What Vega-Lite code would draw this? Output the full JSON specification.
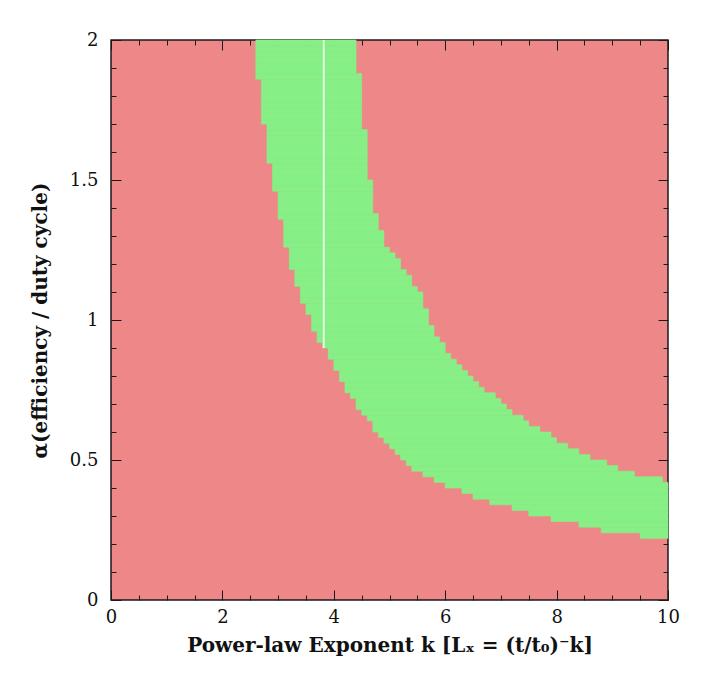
{
  "$schema": "https://vega.github.io/schema/vega-lite/v6.json",
  "width": 557,
  "height": 560,
  "autosize": {"type": "none"},
  "padding": {"left": 111, "top": 40, "right": 43, "bottom": 96},
  "background": "white",
  "config": {
    "view": {"stroke": "#1a1a1a", "strokeWidth": 1.5, "fill": "#ee8787"},
    "axis": {"grid": false, "domain": false, "tickColor": "#1a1a1a", "tickWidth": 1, "labelColor": "#111", "titleColor": "#111", "labelFont": "DejaVu Serif", "titleFont": "DejaVu Serif"}
  },
  "datasets": {
    "band": [
      {"a_lo": 0.22, "a_hi": 0.24, "k_lo": 9.5, "k_hi": 10},
      {"a_lo": 0.24, "a_hi": 0.26, "k_lo": 8.8, "k_hi": 10},
      {"a_lo": 0.26, "a_hi": 0.28, "k_lo": 8.4, "k_hi": 10},
      {"a_lo": 0.28, "a_hi": 0.30, "k_lo": 7.9, "k_hi": 10},
      {"a_lo": 0.30, "a_hi": 0.32, "k_lo": 7.5, "k_hi": 10},
      {"a_lo": 0.32, "a_hi": 0.34, "k_lo": 7.2, "k_hi": 10},
      {"a_lo": 0.34, "a_hi": 0.36, "k_lo": 6.8, "k_hi": 10},
      {"a_lo": 0.36, "a_hi": 0.38, "k_lo": 6.5, "k_hi": 10},
      {"a_lo": 0.38, "a_hi": 0.40, "k_lo": 6.3, "k_hi": 10},
      {"a_lo": 0.40, "a_hi": 0.42, "k_lo": 6.0, "k_hi": 10},
      {"a_lo": 0.42, "a_hi": 0.44, "k_lo": 5.8, "k_hi": 9.9},
      {"a_lo": 0.44, "a_hi": 0.46, "k_lo": 5.6, "k_hi": 9.4},
      {"a_lo": 0.46, "a_hi": 0.48, "k_lo": 5.4, "k_hi": 9.1},
      {"a_lo": 0.48, "a_hi": 0.50, "k_lo": 5.3, "k_hi": 8.9},
      {"a_lo": 0.50, "a_hi": 0.52, "k_lo": 5.2, "k_hi": 8.6},
      {"a_lo": 0.52, "a_hi": 0.54, "k_lo": 5.1, "k_hi": 8.4},
      {"a_lo": 0.54, "a_hi": 0.56, "k_lo": 5.0, "k_hi": 8.2},
      {"a_lo": 0.56, "a_hi": 0.58, "k_lo": 4.9, "k_hi": 8.0},
      {"a_lo": 0.58, "a_hi": 0.60, "k_lo": 4.8, "k_hi": 7.9},
      {"a_lo": 0.60, "a_hi": 0.62, "k_lo": 4.7, "k_hi": 7.7},
      {"a_lo": 0.62, "a_hi": 0.64, "k_lo": 4.7, "k_hi": 7.5},
      {"a_lo": 0.64, "a_hi": 0.66, "k_lo": 4.6, "k_hi": 7.4},
      {"a_lo": 0.66, "a_hi": 0.68, "k_lo": 4.5, "k_hi": 7.2},
      {"a_lo": 0.68, "a_hi": 0.70, "k_lo": 4.4, "k_hi": 7.1},
      {"a_lo": 0.70, "a_hi": 0.72, "k_lo": 4.4, "k_hi": 7.0},
      {"a_lo": 0.72, "a_hi": 0.74, "k_lo": 4.3, "k_hi": 6.9},
      {"a_lo": 0.74, "a_hi": 0.76, "k_lo": 4.2, "k_hi": 6.7},
      {"a_lo": 0.76, "a_hi": 0.78, "k_lo": 4.2, "k_hi": 6.6},
      {"a_lo": 0.78, "a_hi": 0.80, "k_lo": 4.1, "k_hi": 6.5},
      {"a_lo": 0.80, "a_hi": 0.82, "k_lo": 4.1, "k_hi": 6.4},
      {"a_lo": 0.82, "a_hi": 0.84, "k_lo": 4.0, "k_hi": 6.3},
      {"a_lo": 0.84, "a_hi": 0.86, "k_lo": 4.0, "k_hi": 6.2},
      {"a_lo": 0.86, "a_hi": 0.88, "k_lo": 3.9, "k_hi": 6.1},
      {"a_lo": 0.88, "a_hi": 0.90, "k_lo": 3.9, "k_hi": 6.0},
      {"a_lo": 0.90, "a_hi": 0.92, "k_lo": 3.8, "k_hi": 6.0},
      {"a_lo": 0.92, "a_hi": 0.94, "k_lo": 3.7, "k_hi": 5.9},
      {"a_lo": 0.94, "a_hi": 0.96, "k_lo": 3.7, "k_hi": 5.8},
      {"a_lo": 0.96, "a_hi": 0.98, "k_lo": 3.6, "k_hi": 5.8},
      {"a_lo": 0.98, "a_hi": 1.00, "k_lo": 3.6, "k_hi": 5.7},
      {"a_lo": 1.00, "a_hi": 1.02, "k_lo": 3.6, "k_hi": 5.7},
      {"a_lo": 1.02, "a_hi": 1.04, "k_lo": 3.5, "k_hi": 5.7},
      {"a_lo": 1.04, "a_hi": 1.06, "k_lo": 3.5, "k_hi": 5.6},
      {"a_lo": 1.06, "a_hi": 1.08, "k_lo": 3.4, "k_hi": 5.6},
      {"a_lo": 1.08, "a_hi": 1.10, "k_lo": 3.4, "k_hi": 5.6},
      {"a_lo": 1.10, "a_hi": 1.12, "k_lo": 3.4, "k_hi": 5.5},
      {"a_lo": 1.12, "a_hi": 1.14, "k_lo": 3.3, "k_hi": 5.4},
      {"a_lo": 1.14, "a_hi": 1.16, "k_lo": 3.3, "k_hi": 5.4},
      {"a_lo": 1.16, "a_hi": 1.18, "k_lo": 3.3, "k_hi": 5.3},
      {"a_lo": 1.18, "a_hi": 1.20, "k_lo": 3.2, "k_hi": 5.2},
      {"a_lo": 1.20, "a_hi": 1.22, "k_lo": 3.2, "k_hi": 5.2},
      {"a_lo": 1.22, "a_hi": 1.24, "k_lo": 3.2, "k_hi": 5.1},
      {"a_lo": 1.24, "a_hi": 1.26, "k_lo": 3.2, "k_hi": 5.0},
      {"a_lo": 1.26, "a_hi": 1.28, "k_lo": 3.1, "k_hi": 4.9},
      {"a_lo": 1.28, "a_hi": 1.30, "k_lo": 3.1, "k_hi": 4.9},
      {"a_lo": 1.30, "a_hi": 1.32, "k_lo": 3.1, "k_hi": 4.9},
      {"a_lo": 1.32, "a_hi": 1.34, "k_lo": 3.1, "k_hi": 4.8},
      {"a_lo": 1.34, "a_hi": 1.36, "k_lo": 3.1, "k_hi": 4.8},
      {"a_lo": 1.36, "a_hi": 1.38, "k_lo": 3.0, "k_hi": 4.8},
      {"a_lo": 1.38, "a_hi": 1.40, "k_lo": 3.0, "k_hi": 4.7},
      {"a_lo": 1.40, "a_hi": 1.42, "k_lo": 3.0, "k_hi": 4.7},
      {"a_lo": 1.42, "a_hi": 1.44, "k_lo": 3.0, "k_hi": 4.7},
      {"a_lo": 1.44, "a_hi": 1.46, "k_lo": 3.0, "k_hi": 4.7},
      {"a_lo": 1.46, "a_hi": 1.48, "k_lo": 2.9, "k_hi": 4.7},
      {"a_lo": 1.48, "a_hi": 1.50, "k_lo": 2.9, "k_hi": 4.7},
      {"a_lo": 1.50, "a_hi": 1.52, "k_lo": 2.9, "k_hi": 4.6},
      {"a_lo": 1.52, "a_hi": 1.54, "k_lo": 2.9, "k_hi": 4.6},
      {"a_lo": 1.54, "a_hi": 1.56, "k_lo": 2.9, "k_hi": 4.6},
      {"a_lo": 1.56, "a_hi": 1.58, "k_lo": 2.8, "k_hi": 4.6},
      {"a_lo": 1.58, "a_hi": 1.60, "k_lo": 2.8, "k_hi": 4.6},
      {"a_lo": 1.60, "a_hi": 1.62, "k_lo": 2.8, "k_hi": 4.6},
      {"a_lo": 1.62, "a_hi": 1.64, "k_lo": 2.8, "k_hi": 4.6},
      {"a_lo": 1.64, "a_hi": 1.66, "k_lo": 2.8, "k_hi": 4.6},
      {"a_lo": 1.66, "a_hi": 1.68, "k_lo": 2.8, "k_hi": 4.6},
      {"a_lo": 1.68, "a_hi": 1.70, "k_lo": 2.8, "k_hi": 4.5},
      {"a_lo": 1.70, "a_hi": 1.72, "k_lo": 2.7, "k_hi": 4.5},
      {"a_lo": 1.72, "a_hi": 1.74, "k_lo": 2.7, "k_hi": 4.5},
      {"a_lo": 1.74, "a_hi": 1.76, "k_lo": 2.7, "k_hi": 4.5},
      {"a_lo": 1.76, "a_hi": 1.78, "k_lo": 2.7, "k_hi": 4.5},
      {"a_lo": 1.78, "a_hi": 1.80, "k_lo": 2.7, "k_hi": 4.5},
      {"a_lo": 1.80, "a_hi": 1.82, "k_lo": 2.7, "k_hi": 4.5},
      {"a_lo": 1.82, "a_hi": 1.84, "k_lo": 2.7, "k_hi": 4.5},
      {"a_lo": 1.84, "a_hi": 1.86, "k_lo": 2.7, "k_hi": 4.5},
      {"a_lo": 1.86, "a_hi": 1.88, "k_lo": 2.6, "k_hi": 4.5},
      {"a_lo": 1.88, "a_hi": 1.90, "k_lo": 2.6, "k_hi": 4.4},
      {"a_lo": 1.90, "a_hi": 1.92, "k_lo": 2.6, "k_hi": 4.4},
      {"a_lo": 1.92, "a_hi": 1.94, "k_lo": 2.6, "k_hi": 4.4},
      {"a_lo": 1.94, "a_hi": 1.96, "k_lo": 2.6, "k_hi": 4.4},
      {"a_lo": 1.96, "a_hi": 1.98, "k_lo": 2.6, "k_hi": 4.4},
      {"a_lo": 1.98, "a_hi": 2.00, "k_lo": 2.6, "k_hi": 4.4}
    ],
    "gap": [
      {"k": 3.82, "a_lo": 0.9, "a_hi": 2.0}
    ]
  },
  "data": {"name": "band"},
  "resolve": {"axis": {"x": "independent", "y": "independent"}},
  "layer": [
    {
      "mark": {"type": "rect", "color": "#86f086", "stroke": "#86f086", "strokeWidth": 0.6},
      "encoding": {
        "x": {"field": "k_lo", "type": "quantitative", "scale": {"domain": [0, 10], "nice": false, "zero": false},
          "axis": {"orient": "bottom", "values": [0, 2, 4, 6, 8, 10], "tickSize": -10, "labelPadding": 18, "labelFontSize": 18, "labelFlush": false,
            "title": "Power-law Exponent k [Lₓ = (t/t₀)⁻k]", "titleFontSize": 20, "titleFontWeight": "bold", "titlePadding": 9}},
        "x2": {"field": "k_hi"},
        "y": {"field": "a_lo", "type": "quantitative", "scale": {"domain": [0, 2], "nice": false, "zero": false},
          "axis": {"orient": "left", "values": [0, 0.5, 1, 1.5, 2], "format": "~g", "tickSize": -10, "labelPadding": 23, "labelFontSize": 18, "labelFlush": false,
            "title": "α(efficiency / duty cycle)", "titleFontSize": 20, "titleFontWeight": "bold", "titlePadding": 19}},
        "y2": {"field": "a_hi"}
      }
    },
    {
      "data": {"name": "gap"},
      "mark": {"type": "rule", "color": "#f4fff4", "strokeWidth": 2, "opacity": 0.8},
      "encoding": {
        "x": {"field": "k", "type": "quantitative", "scale": {"domain": [0, 10], "nice": false, "zero": false}, "axis": null},
        "y": {"field": "a_lo", "type": "quantitative", "scale": {"domain": [0, 2], "nice": false, "zero": false}, "axis": null},
        "y2": {"field": "a_hi"}
      }
    },
    {
      "mark": {"type": "point", "opacity": 0},
      "encoding": {
        "x": {"field": "k_lo", "type": "quantitative", "scale": {"domain": [0, 10], "nice": false, "zero": false},
          "axis": {"orient": "bottom", "values": [0.5, 1, 1.5, 2.5, 3, 3.5, 4.5, 5, 5.5, 6.5, 7, 7.5, 8.5, 9, 9.5], "tickSize": -5, "labels": false, "title": null}}
      }
    },
    {
      "mark": {"type": "point", "opacity": 0},
      "encoding": {
        "x": {"field": "k_lo", "type": "quantitative", "scale": {"domain": [0, 10], "nice": false, "zero": false},
          "axis": {"orient": "top", "values": [0, 2, 4, 6, 8, 10], "tickSize": -10, "labels": false, "title": null}}
      }
    },
    {
      "mark": {"type": "point", "opacity": 0},
      "encoding": {
        "x": {"field": "k_lo", "type": "quantitative", "scale": {"domain": [0, 10], "nice": false, "zero": false},
          "axis": {"orient": "top", "values": [0.5, 1, 1.5, 2.5, 3, 3.5, 4.5, 5, 5.5, 6.5, 7, 7.5, 8.5, 9, 9.5], "tickSize": -5, "labels": false, "title": null}}
      }
    },
    {
      "mark": {"type": "point", "opacity": 0},
      "encoding": {
        "y": {"field": "a_lo", "type": "quantitative", "scale": {"domain": [0, 2], "nice": false, "zero": false},
          "axis": {"orient": "left", "values": [0.1, 0.2, 0.3, 0.4, 0.6, 0.7, 0.8, 0.9, 1.1, 1.2, 1.3, 1.4, 1.6, 1.7, 1.8, 1.9], "tickSize": -5, "labels": false, "title": null}}
      }
    },
    {
      "mark": {"type": "point", "opacity": 0},
      "encoding": {
        "y": {"field": "a_lo", "type": "quantitative", "scale": {"domain": [0, 2], "nice": false, "zero": false},
          "axis": {"orient": "right", "values": [0, 0.5, 1, 1.5, 2], "tickSize": -10, "labels": false, "title": null}}
      }
    },
    {
      "mark": {"type": "point", "opacity": 0},
      "encoding": {
        "y": {"field": "a_lo", "type": "quantitative", "scale": {"domain": [0, 2], "nice": false, "zero": false},
          "axis": {"orient": "right", "values": [0.1, 0.2, 0.3, 0.4, 0.6, 0.7, 0.8, 0.9, 1.1, 1.2, 1.3, 1.4, 1.6, 1.7, 1.8, 1.9], "tickSize": -5, "labels": false, "title": null}}
      }
    }
  ]
}
